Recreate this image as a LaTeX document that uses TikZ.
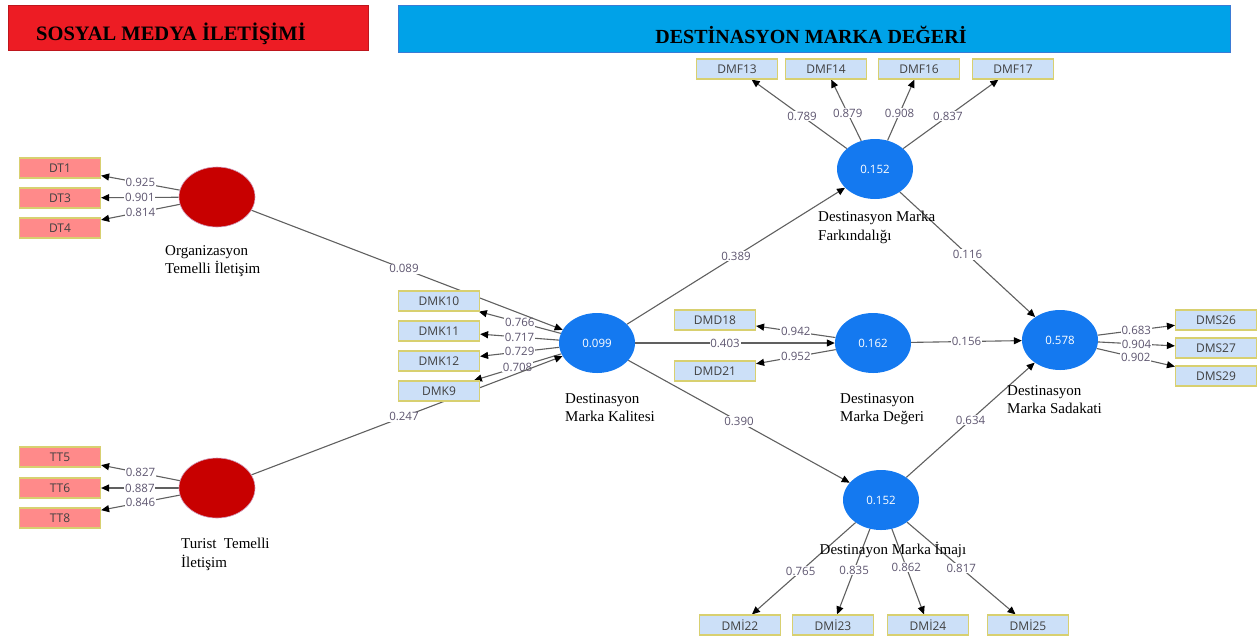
\documentclass[tikz,border=0pt]{standalone}
\usepackage{fontspec}
\setmainfont{Liberation Serif}
\newfontfamily\numfont{Open Sans}
\usetikzlibrary{arrows.meta,shapes.geometric}
\definecolor{banred}{HTML}{ED1C24}
\definecolor{banblue}{HTML}{00A2E8}
\definecolor{banblueedge}{HTML}{3A7BD5}
\definecolor{latred}{HTML}{C80000}
\definecolor{latblue}{HTML}{1479F0}
\definecolor{boxred}{HTML}{FF8A8A}
\definecolor{boxblue}{HTML}{CCE0F8}
\definecolor{boxedge}{HTML}{D8D070}
\definecolor{linegray}{HTML}{606060}
\definecolor{numcol}{HTML}{5E5670}
\definecolor{indtext}{HTML}{404040}
\pgfdeclarelayer{bg}
\pgfsetlayers{bg,main}
\begin{document}
\begin{tikzpicture}[x=1pt,y=-1pt,
  lat/.style={ellipse,minimum width=76,minimum height=60,inner sep=0,text=white,font=\numfont\fontsize{11.5}{12}\selectfont},
  redlat/.style={lat,fill=latred,draw=latred!70!blue!40!white,line width=0.6pt},
  bluelat/.style={lat,fill=latblue},
  ind/.style={draw=boxedge,line width=1.2pt,minimum width=81,minimum height=20,inner sep=0,text=indtext,font=\numfont\fontsize{12}{12}\selectfont},
  redind/.style={ind,fill=boxred},
  blueind/.style={ind,fill=boxblue},
  lnk/.style={draw=linegray,line width=1.1pt,-{Triangle[length=8pt,width=7pt,color=black]}},
  val/.style={fill=white,inner sep=0.8pt,text=numcol,font=\numfont\fontsize{11.5}{12}\selectfont},
  lab/.style={align=left,font=\fontsize{15}{18.5}\selectfont,text=black,inner sep=0}
]
\useasboundingbox (0,0) rectangle (1258,641);
% banners
\node[fill=banred,draw=banred!80!black,line width=0.5pt,minimum width=360,minimum height=45,inner sep=0,anchor=north west] (banL) at (8,5) {};
\node[font=\bfseries\fontsize{20.5}{21}\selectfont] (banLt) at (171,34) {SOSYAL MEDYA İLETİŞİMİ};
\node[fill=banblue,draw=banblueedge,line width=0.8pt,minimum width=832,minimum height=47,inner sep=0,anchor=north west] (banR) at (398,5) {};
\node[font=\bfseries\fontsize{20}{21}\selectfont] (banRt) at (811,35) {DESTİNASYON MARKA DEĞERİ};
% latent variables
\node[redlat] (org) at (217,197) {};
\node[redlat] (tur) at (217,488) {};
\node[bluelat] (dmk) at (597,343) {0.099};
\node[bluelat] (dmf) at (875,169) {0.152};
\node[bluelat] (dmd) at (873,343) {0.162};
\node[bluelat] (dms) at (1060,340) {0.578};
\node[bluelat] (dmi) at (881,500) {0.152};
% indicators
\node[redind] (dt1) at (60,168) {DT1};
\node[redind] (dt3) at (60,198) {DT3};
\node[redind] (dt4) at (60,228) {DT4};
\node[redind] (tt5) at (60,457) {TT5};
\node[redind] (tt6) at (60,488) {TT6};
\node[redind] (tt8) at (60,518) {TT8};
\node[blueind] (dmk10) at (439,301) {DMK10};
\node[blueind] (dmk11) at (439,331) {DMK11};
\node[blueind] (dmk12) at (439,361) {DMK12};
\node[blueind] (dmk9) at (439,391) {DMK9};
\node[blueind] (dmf13) at (737,69) {DMF13};
\node[blueind] (dmf14) at (826,69) {DMF14};
\node[blueind] (dmf16) at (919,69) {DMF16};
\node[blueind] (dmf17) at (1013,69) {DMF17};
\node[blueind] (dmd18) at (715,320) {DMD18};
\node[blueind] (dmd21) at (715,371) {DMD21};
\node[blueind] (dms26) at (1216,320) {DMS26};
\node[blueind] (dms27) at (1216,348) {DMS27};
\node[blueind] (dms29) at (1216,376) {DMS29};
\node[blueind] (dmi22) at (740,625) {DMİ22};
\node[blueind] (dmi23) at (833,625) {DMİ23};
\node[blueind] (dmi24) at (928,625) {DMİ24};
\node[blueind] (dmi25) at (1028,625) {DMİ25};
% latent labels
\node[lab,anchor=north west] (orgl) at (165,245) {Organizasyon\\Temelli İletişim};
\node[lab,anchor=north west] (turl) at (181,538) {Turist\ \ Temelli\\İletişim};
\node[lab,anchor=north west] (dmkl) at (565,393) {Destinasyon\\Marka Kalitesi};
\node[lab,anchor=north west] (dmfl) at (818,211) {Destinasyon Marka\\Farkındalığı};
\node[lab,anchor=north west] (dmdl) at (840,393) {Destinasyon\\Marka Değeri};
\node[lab,anchor=north west] (dmsl) at (1007,385) {Destinasyon\\Marka Sadakati};
\node[lab] (dmil) at (893,550) {Destinayon Marka İmajı};
% connectors
\begin{pgfonlayer}{bg}
\draw[lnk] (org) -- node[val]{0.925} (dt1);
\draw[lnk] (org) -- node[val]{0.901} (dt3);
\draw[lnk] (org) -- node[val]{0.814} (dt4);
\draw[lnk] (tur) -- node[val]{0.827} (tt5);
\draw[lnk] (tur) -- node[val]{0.887} (tt6);
\draw[lnk] (tur) -- node[val]{0.846} (tt8);
\draw[lnk] (dmk) -- node[val]{0.766} (dmk10);
\draw[lnk] (dmk) -- node[val]{0.717} (dmk11);
\draw[lnk] (dmk) -- node[val]{0.729} (dmk12);
\draw[lnk] (dmk) -- node[val]{0.708} (dmk9);
\draw[lnk] (dmf) -- node[val,pos=0.47]{0.789} (dmf13);
\draw[lnk] (dmf) -- node[val,pos=0.45]{0.879} (dmf14);
\draw[lnk] (dmf) -- node[val,pos=0.45]{0.908} (dmf16);
\draw[lnk] (dmf) -- node[val,pos=0.47]{0.837} (dmf17);
\draw[lnk] (dmd) -- node[val]{0.942} (dmd18);
\draw[lnk] (dmd) -- node[val]{0.952} (dmd21);
\draw[lnk] (dms) -- node[val]{0.683} (dms26);
\draw[lnk] (dms) -- node[val]{0.904} (dms27);
\draw[lnk] (dms) -- node[val]{0.902} (dms29);
\draw[lnk] (dmi) -- node[val,pos=0.53]{0.765} (dmi22);
\draw[lnk] (dmi) -- node[val,pos=0.48]{0.835} (dmi23);
\draw[lnk] (dmi) -- node[val,pos=0.45]{0.862} (dmi24);
\draw[lnk] (dmi) -- node[val,pos=0.5]{0.817} (dmi25);
\draw[lnk] (org) -- node[val,pos=0.49]{0.089} (dmk);
\draw[lnk] (tur) -- node[val,pos=0.49]{0.247} (dmk);
\draw[lnk] (dmk) -- node[val]{0.389} (dmf);
\draw[lnk] (dmk) -- node[val,pos=0.45]{0.403} (dmd);
\draw[lnk] (dmk) -- node[val]{0.390} (dmi);
\draw[lnk] (dmf) -- node[val]{0.116} (dms);
\draw[lnk] (dmd) -- node[val]{0.156} (dms);
\draw[lnk] (dmi) -- node[val]{0.634} (dms);
\end{pgfonlayer}
\end{tikzpicture}
\end{document}
